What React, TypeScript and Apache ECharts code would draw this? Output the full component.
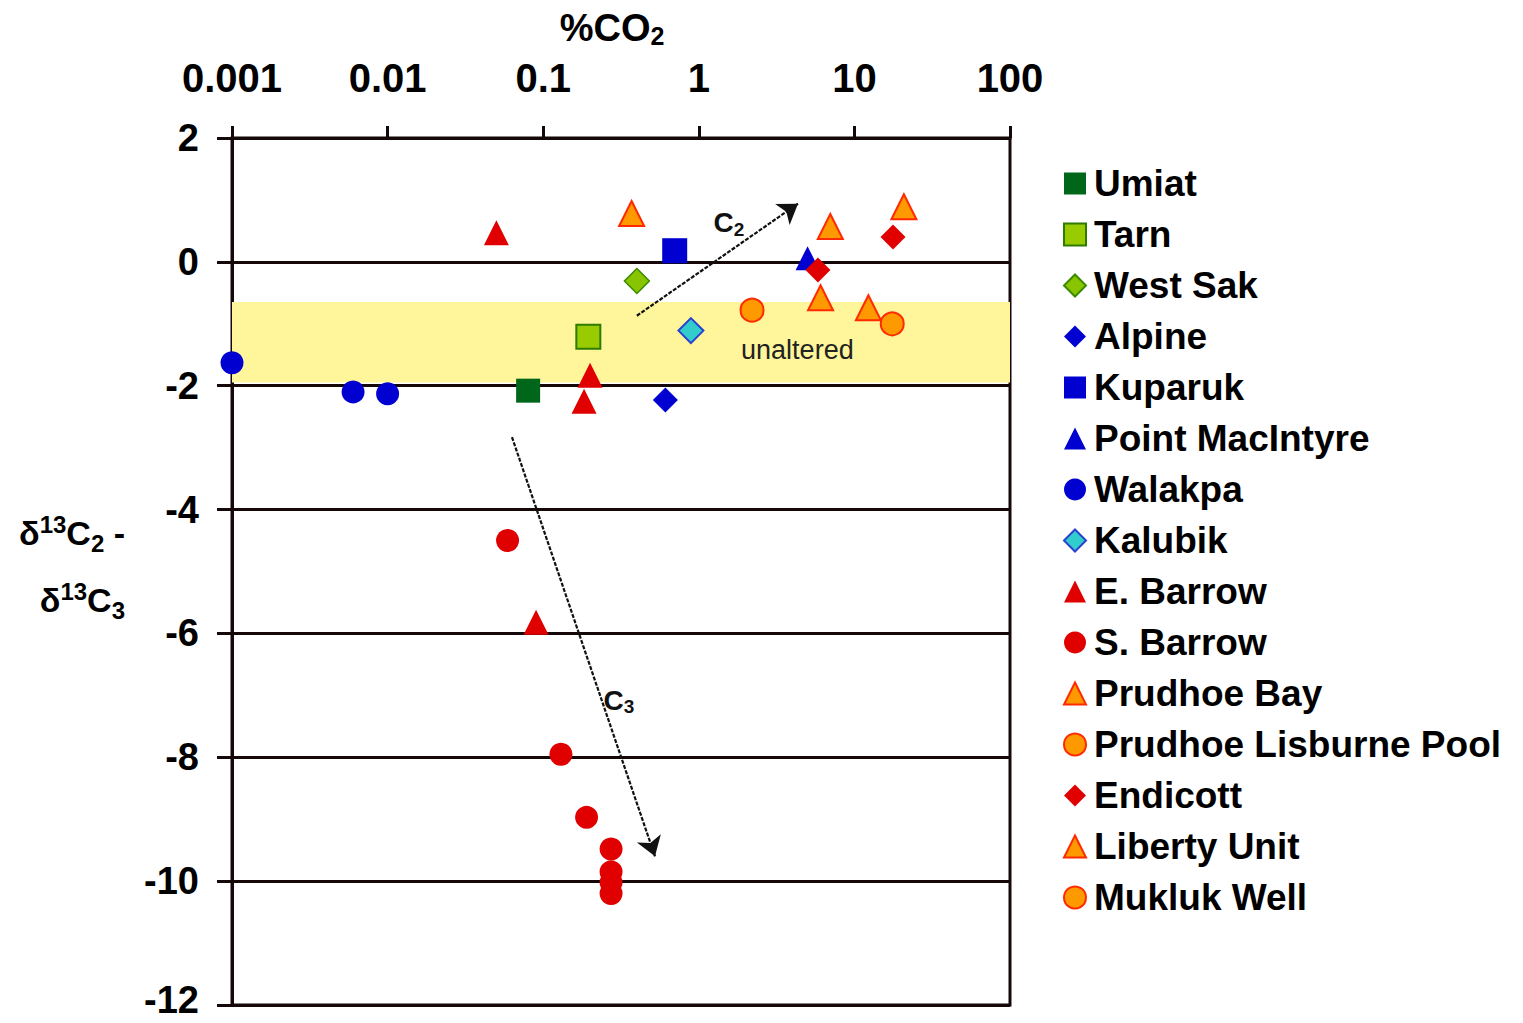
import React, { useEffect, useRef } from 'react';
import * as echarts from 'echarts';

const FONT = '"Liberation Sans", Arial, Helvetica, sans-serif';
const LINE = '#140808';

// x tick labels (log axis, %CO2)
const xTickLabels = ['0.001', '0.01', '0.1', '1', '10', '100'];
const yTicks = { min: -12, max: 2, interval: 2 };

// [%CO2, δ13C2 - δ13C3]
const umiat = [[0.08, -2.08]];
const tarn = [[0.195, -1.21]];
const westSak = [[0.4, -0.31]];
const alpine = [[0.61, -2.23]];
const kuparuk = [[0.7, 0.18]];
const pointMacIntyre = [[5.0, 0.06]];
const walakpa = [[0.001, -1.63], [0.006, -2.1], [0.01, -2.13]];
const kalubik = [[0.89, -1.11]];
const eBarrow = [[0.05, 0.47], [0.2, -1.83], [0.183, -2.25], [0.09, -5.82]];
const sBarrow = [[0.059, -4.5], [0.13, -7.95], [0.19, -8.97], [0.273, -9.48], [0.273, -9.85], [0.273, -10.02], [0.273, -10.2]];
const prudhoeBay = [[0.37, 0.78], [7.0, 0.57], [20.8, 0.89]];
const prudhoeLisburne = [[2.2, -0.78]];
const endicott = [[17.7, 0.4], [5.83, -0.13]];
const libertyUnit = [[6.06, -0.58], [12.3, -0.74]];
const muklukWell = [[17.5, -1.0]];

// annotations
const unalteredBand = [-1.95, -0.65];
const c2Arrow = [[0.4, -0.87], [4.34, 0.94]];
const c3Arrow = [[0.063, -2.83], [0.523, -9.6]];
const c2Label = [1.56, 0.63];
const c3Label = [0.307, -7.08];
const unalteredLabel = [4.3, -1.42];

const legendNames = [
  'Umiat', 'Tarn', 'West Sak', 'Alpine', 'Kuparuk', 'Point MacIntyre', 'Walakpa', 'Kalubik',
  'E. Barrow', 'S. Barrow', 'Prudhoe Bay', 'Prudhoe Lisburne Pool', 'Endicott', 'Liberty Unit', 'Mukluk Well',
];

const BLUE = '#0000d0';
const RED = '#e00000';
const ORANGE = '#ff9900';
const ORANGE_BORDER = '#ff2a00';

function sc(name: string, data: number[][], symbol: string, size: number, color: string, borderColor?: string, borderWidth?: number) {
  return {
    name,
    type: 'scatter',
    data,
    symbol,
    symbolSize: size,
    z: 4,
    itemStyle: { color, borderColor: borderColor || color, borderWidth: borderWidth || 0, opacity: 1 },
    emphasis: { disabled: true },
  };
}

export default function App() {
  const ref = useRef<HTMLDivElement>(null);
  useEffect(() => {
    if (!ref.current) return;
    const chart = echarts.init(ref.current, null, { renderer: 'svg' });
    const bold = { fontFamily: FONT, fontWeight: 'bold', color: '#000' };
    chart.setOption({
      animation: false,
      backgroundColor: '#fff',
      grid: {
        left: 232, top: 138, width: 778, height: 867,
        show: true, borderColor: LINE, borderWidth: 3, backgroundColor: 'transparent',
      },
      xAxis: {
        type: 'log',
        logBase: 10,
        min: 0.001,
        max: 100,
        position: 'top',
        name: '{m|%CO}{s|2}',
        nameLocation: 'middle',
        nameGap: 90,
        nameTextStyle: {
          padding: [0, 18, 0, 0],
          rich: {
            m: { ...bold, fontSize: 38 },
            s: { ...bold, fontSize: 25, padding: [16, 0, 0, 0] },
          },
        },
        axisLine: { show: true, onZero: false, lineStyle: { color: LINE, width: 3 } },
        axisTick: { show: true, length: 12, lineStyle: { color: LINE, width: 3 } },
        minorTick: { show: false },
        splitLine: { show: false },
        axisLabel: {
          ...bold,
          fontSize: 40,
          lineHeight: 32,
          margin: 44,
          formatter: (v: number) => xTickLabels[Math.round(Math.log10(v)) + 3],
        },
      },
      yAxis: {
        type: 'value',
        min: yTicks.min,
        max: yTicks.max,
        interval: yTicks.interval,
        name: '{m|δ}{p|13}{m|C}{s|2}{m| -}\n{m|δ}{p|13}{m|C}{s|3}',
        nameLocation: 'middle',
        nameRotate: 0,
        nameGap: 107,
        nameTextStyle: {
          padding: [0, 0, 10, 0],
          rich: {
            m: { ...bold, fontSize: 34, lineHeight: 67 },
            p: { ...bold, fontSize: 24, padding: [0, 0, 17, 0] },
            s: { ...bold, fontSize: 24, padding: [20, 0, 0, 0] },
          },
        },
        axisLine: { show: true, onZero: false, lineStyle: { color: LINE, width: 3 } },
        axisTick: { show: true, length: 15, lineStyle: { color: LINE, width: 3 } },
        splitLine: { show: true, lineStyle: { color: LINE, width: 3 } },
        axisLabel: {
          ...bold,
          fontSize: 38,
          margin: 33,
          formatter: (v: number) => (v === yTicks.min ? `{low|${v}}` : `{n|${v}}`),
          rich: {
            n: { ...bold, fontSize: 38 },
            low: { ...bold, fontSize: 38, padding: [0, 0, 10, 0] },
          },
        },
      },
      legend: {
        data: legendNames,
        orient: 'vertical',
        left: 1063,
        top: 165,
        padding: 0,
        itemWidth: 22,
        itemHeight: 22,
        itemGap: 14,
        selectedMode: false,
        textStyle: { ...bold, fontSize: 37, lineHeight: 37, padding: [0, 0, 0, 3] },
      },
      series: [
        {
          name: 'band',
          type: 'scatter',
          data: [],
          z: 1,
          silent: true,
          markArea: {
            silent: true,
            itemStyle: { color: '#fff59a' },
            data: [[{ yAxis: unalteredBand[1] }, { yAxis: unalteredBand[0] }]],
          },
        },
        sc('Umiat', umiat, 'rect', 24, '#00661a'),
        sc('Tarn', tarn, 'rect', 24, '#99cc00', '#2f7a00', 2),
        sc('West Sak', westSak, 'diamond', 25, '#88c400', '#3a8a00', 1.5),
        sc('Alpine', alpine, 'diamond', 25, BLUE),
        sc('Kuparuk', kuparuk, 'rect', 25, BLUE),
        sc('Point MacIntyre', pointMacIntyre, 'triangle', 24, BLUE),
        sc('Walakpa', walakpa, 'circle', 23, BLUE),
        sc('Kalubik', kalubik, 'diamond', 25, '#33cccc', '#2a40d0', 2),
        sc('E. Barrow', eBarrow, 'triangle', 25, RED),
        sc('S. Barrow', sBarrow, 'circle', 23, RED),
        sc('Prudhoe Bay', prudhoeBay, 'triangle', 25, ORANGE, ORANGE_BORDER, 2),
        sc('Prudhoe Lisburne Pool', prudhoeLisburne, 'circle', 23, ORANGE, ORANGE_BORDER, 2),
        sc('Endicott', endicott, 'diamond', 25, RED),
        sc('Liberty Unit', libertyUnit, 'triangle', 25, ORANGE, ORANGE_BORDER, 2),
        sc('Mukluk Well', muklukWell, 'circle', 23, ORANGE, ORANGE_BORDER, 2),
        {
          name: 'annotations',
          type: 'scatter',
          data: [],
          z: 6,
          silent: true,
          markLine: {
            silent: true,
            symbol: ['none', 'arrow'],
            symbolSize: 19,
            label: { show: false },
            lineStyle: { color: '#111', width: 2.2, type: [4, 1.5] },
            data: [
              [{ coord: c2Arrow[0] }, { coord: c2Arrow[1] }],
              [{ coord: c3Arrow[0] }, { coord: c3Arrow[1] }],
            ],
          },
          markPoint: {
            silent: true,
            symbol: 'circle',
            symbolSize: 0,
            label: {
              show: true,
              position: 'inside',
              rich: {
                c: { ...bold, fontSize: 28, color: '#111' },
                s: { ...bold, fontSize: 19, color: '#111', padding: [13, 0, 0, 0] },
                u: { fontFamily: FONT, fontSize: 27, color: '#222' },
              },
            },
            data: [
              { coord: c2Label, label: { formatter: '{c|C}{s|2}' } },
              { coord: c3Label, label: { formatter: '{c|C}{s|3}' } },
              { coord: unalteredLabel, label: { formatter: '{u|unaltered}' } },
            ],
          },
        },
      ],
    });
    return () => chart.dispose();
  }, []);
  return (
    <div
      ref={ref}
      style={{ position: 'fixed', left: 0, top: 0, width: 1523, height: 1023, background: '#fff' }}
    />
  );
}
